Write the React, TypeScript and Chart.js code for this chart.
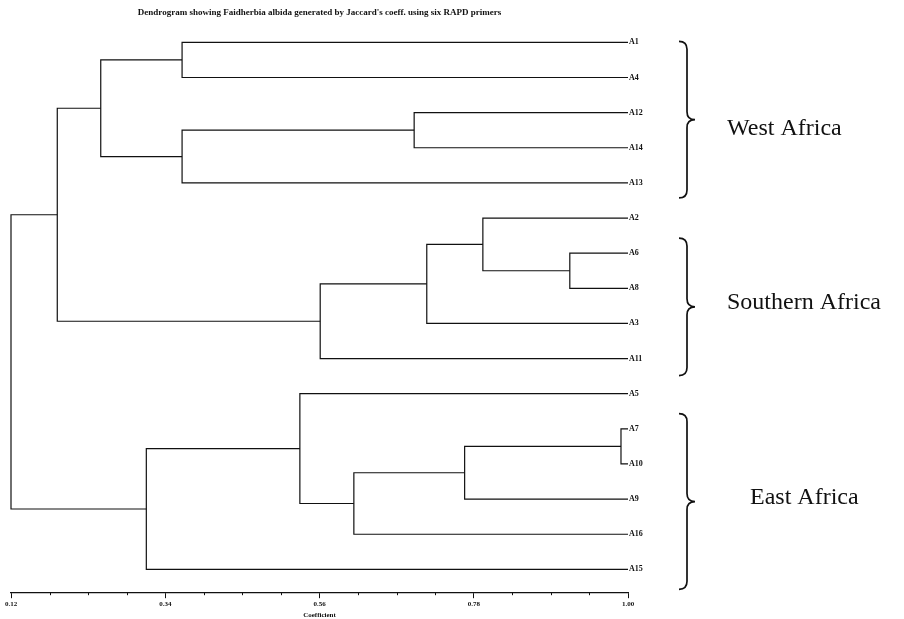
import React, { useEffect, useRef } from "react";
import { Chart, registerables } from "chart.js";
Chart.register(...registerables);

// ---- data ----
const titleText =
  "Dendrogram showing Faidherbia albida generated by Jaccard's coeff. using six RAPD primers";
const leaves = ["A1", "A4", "A12", "A14", "A13", "A2", "A6", "A8", "A3", "A11", "A5", "A7", "A10", "A9", "A16", "A15"];
const leafCoef = 1.0;
// merges: node Ni joins mergeA[i] and mergeB[i] at mergeCoef[i]
const mergeA = ["A1", "A12", "N1", "N0", "A6", "A2", "N5", "N6", "N3", "A7", "N9", "N10", "A5", "N12", "N8"];
const mergeB = ["A4", "A14", "A13", "N2", "A8", "N4", "A3", "A11", "N7", "A10", "A9", "A16", "N11", "A15", "N13"];
const mergeCoef = [0.364, 0.695, 0.364, 0.248, 0.917, 0.793, 0.713, 0.561, 0.186, 0.99, 0.767, 0.609, 0.532, 0.313, 0.12];
const tickValues = [0.12, 0.34, 0.56, 0.78, 1.0];
const tickLabels = ["0.12", "0.34", "0.56", "0.78", "1.00"];
const axisTitle = "Coefficient";
const regionNames = ["West Africa", "Southern Africa", "East Africa"];
const regionFirstLeaf = [0, 5, 10];
const regionLastLeaf = [4, 9, 15];

// build segments
function buildDatasets() {
  const pos: Record<string, { x: number; y: number }> = {};
  leaves.forEach((l, i) => (pos[l] = { x: leafCoef, y: i }));
  const ds: any[] = [];
  mergeA.forEach((a, i) => {
    const b = mergeB[i];
    const c = mergeCoef[i];
    const pa = pos[a];
    const pb = pos[b];
    ds.push({
      data: [
        { x: pa.x, y: pa.y },
        { x: c, y: pa.y },
        { x: c, y: pb.y },
        { x: pb.x, y: pb.y },
      ],
      showLine: true,
      borderColor: "#111",
      borderWidth: 1.2,
      pointRadius: 0,
      fill: false,
      tension: 0,
      clip: false,
    });
    pos["N" + i] = { x: c, y: (pa.y + pb.y) / 2 };
  });
  return ds;
}

const SERIF = "'Liberation Serif', 'DejaVu Serif', serif";

const decorPlugin = {
  id: "decor",
  afterDraw(chart: any) {
    const ctx = chart.ctx;
    const xs = chart.scales.x;
    const ys = chart.scales.y;
    const area = chart.chartArea;
    ctx.save();
    // minor ticks
    ctx.strokeStyle = "#111";
    ctx.lineWidth = 1;
    for (let i = 0; i < tickValues.length - 1; i++) {
      for (let k = 1; k < 4; k++) {
        const v = tickValues[i] + ((tickValues[i + 1] - tickValues[i]) * k) / 4;
        const px = Math.round(xs.getPixelForValue(v)) + 0.5;
        ctx.beginPath();
        ctx.moveTo(px, area.bottom);
        ctx.lineTo(px, area.bottom + 3);
        ctx.stroke();
      }
    }
    // leaf labels
    ctx.fillStyle = "#111";
    ctx.font = "bold 8px " + SERIF;
    ctx.textBaseline = "middle";
    ctx.textAlign = "left";
    leaves.forEach((l, i) => {
      ctx.fillText(l, xs.getPixelForValue(leafCoef) + 1, ys.getPixelForValue(i));
    });
    // braces
    const topPad = [-1, 20, 20];
    const botPad = [15, 17, 20];
    const labelX = [727, 727, 750];
    const labelDy = [9, -4, -4];
    const x0 = 679;
    const xm = 687;
    const xt = 695;
    ctx.lineWidth = 1.7;
    regionNames.forEach((name, g) => {
      const top = ys.getPixelForValue(regionFirstLeaf[g]) + topPad[g];
      const bot = ys.getPixelForValue(regionLastLeaf[g]) + botPad[g];
      const mid = (top + bot) / 2;
      const r = 8;
      ctx.beginPath();
      ctx.moveTo(x0, top);
      ctx.quadraticCurveTo(xm, top, xm, top + r);
      ctx.lineTo(xm, mid - r);
      ctx.quadraticCurveTo(xm, mid, xt, mid);
      ctx.quadraticCurveTo(xm, mid, xm, mid + r);
      ctx.lineTo(xm, bot - r);
      ctx.quadraticCurveTo(xm, bot, x0, bot);
      ctx.stroke();
      ctx.font = "24px " + SERIF;
      ctx.fillText(name, labelX[g], mid + labelDy[g]);
    });
    ctx.restore();
  },
};

export default function App() {
  const ref = useRef<HTMLCanvasElement>(null);
  useEffect(() => {
    if (!ref.current) return;
    const chart = new Chart(ref.current, {
      type: "scatter",
      data: { datasets: buildDatasets() },
      options: {
        animation: false,
        responsive: false,
        layout: { padding: { left: 11, right: 276, top: 0, bottom: 0 } },
        plugins: {
          legend: { display: false },
          tooltip: { enabled: false },
          title: {
            display: true,
            text: titleText,
            color: "#111",
            font: { size: 9, weight: "bold", family: SERIF },
            padding: { top: 7, bottom: 7 },
          },
        },
        scales: {
          x: {
            type: "linear",
            position: "bottom",
            min: tickValues[0],
            max: tickValues[tickValues.length - 1],
            afterBuildTicks: (s: any) => {
              s.ticks = tickValues.map((v) => ({ value: v }));
            },
            ticks: {
              autoSkip: false,
              maxRotation: 0,
              padding: 2,
              color: "#111",
              font: { size: 7, weight: "bold", family: SERIF },
              callback: (_v: any, i: number) => tickLabels[i],
            },
            grid: { drawOnChartArea: false, drawTicks: true, tickLength: 6, color: "#111" },
            border: { display: true, color: "#111", width: 1.2 },
            title: {
              display: true,
              text: axisTitle,
              color: "#111",
              font: { size: 7, weight: "bold", family: SERIF },
              padding: { top: 0, bottom: 0 },
            },
          },
          y: {
            type: "linear",
            reverse: true,
            min: -0.5,
            max: 15.65,
            display: false,
          },
        },
      },
      plugins: [decorPlugin],
    } as any);
    return () => chart.destroy();
  }, []);
  return (
    <div style={{ position: "absolute", left: 0, top: 0, width: 904, height: 619, background: "#fff" }}>
      <canvas ref={ref} width={904} height={619} style={{ width: 904, height: 619 }} />
    </div>
  );
}
